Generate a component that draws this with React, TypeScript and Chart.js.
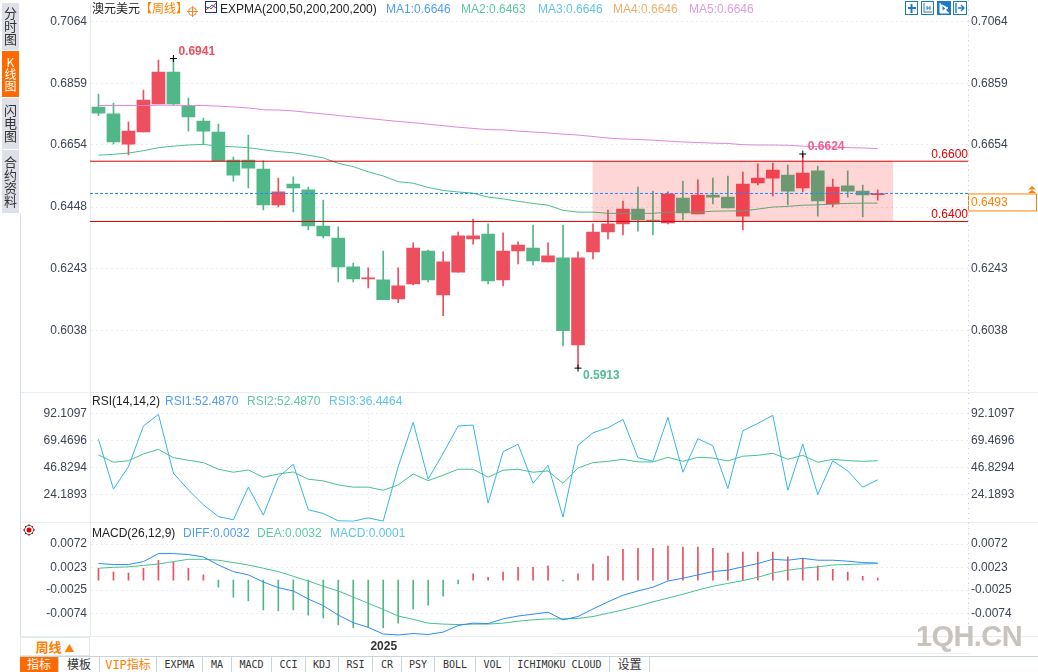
import React, { useEffect, useRef } from "react";
import { Chart, registerables } from "chart.js";

Chart.register(...registerables);

const FONT = "'Liberation Sans', 'Noto Sans CJK SC', sans-serif";
const CJK = "'Noto Sans CJK SC', 'Liberation Sans', sans-serif";
const MONO = "'DejaVu Sans Mono', 'Noto Sans CJK SC', monospace";

// weekly candles
const opens = [0.678,0.6757,0.6657,0.6697,0.679,0.6896,0.6784,0.6733,0.6697,0.6604,0.6604,0.6574,0.6455,0.6524,0.6505,0.6385,0.6345,0.6249,0.6209,0.6206,0.6143,0.6193,0.6302,0.6156,0.6232,0.6342,0.6358,0.6206,0.6302,0.6312,0.6266,0.6279,0.599,0.6299,0.6365,0.6392,0.6441,0.6405,0.6395,0.6478,0.6425,0.6488,0.6481,0.6418,0.6528,0.6544,0.6554,0.6511,0.6568,0.6458,0.6518,0.6501,0.6489];
const closes = [0.676,0.6664,0.67,0.6803,0.6896,0.679,0.6747,0.67,0.6601,0.6554,0.6577,0.6455,0.6498,0.6511,0.6385,0.6352,0.6249,0.6209,0.6213,0.614,0.6186,0.6312,0.6206,0.6266,0.6352,0.6352,0.6203,0.6302,0.6322,0.6269,0.6286,0.6037,0.6279,0.6365,0.6392,0.6441,0.6405,0.6402,0.6491,0.6428,0.6488,0.6481,0.6445,0.6524,0.6544,0.6571,0.6501,0.6561,0.6468,0.6514,0.6501,0.6488,0.6493];
const highs = [0.6823,0.6793,0.673,0.6836,0.6936,0.6941,0.681,0.6743,0.6723,0.6614,0.6687,0.6601,0.6544,0.6548,0.6514,0.6471,0.6382,0.6262,0.6246,0.6302,0.6246,0.6329,0.6305,0.6299,0.6365,0.6408,0.6392,0.6362,0.6332,0.6388,0.6329,0.6388,0.6299,0.6392,0.6438,0.6468,0.6514,0.6501,0.6498,0.6534,0.6538,0.6544,0.6551,0.6564,0.6591,0.6594,0.6587,0.6624,0.6584,0.6541,0.6568,0.6521,0.6505];
const lows = [0.6751,0.6657,0.6621,0.6697,0.679,0.6786,0.67,0.6657,0.6601,0.6534,0.6511,0.6438,0.6448,0.6432,0.6372,0.6345,0.6199,0.6199,0.6179,0.614,0.613,0.6189,0.6199,0.6087,0.6232,0.6325,0.6193,0.6186,0.6259,0.6256,0.6266,0.5987,0.5913,0.6276,0.6342,0.6355,0.6368,0.6355,0.6392,0.6405,0.6425,0.6458,0.6445,0.6372,0.6521,0.6485,0.6455,0.6498,0.6418,0.6448,0.6481,0.6415,0.6471];

const expmaSlow = [0.6785,0.6785,0.6785,0.6785,0.6786,0.6786,0.6785,0.6785,0.6783,0.678,0.6777,0.6771,0.677,0.6767,0.6762,0.6757,0.6752,0.6747,0.6742,0.6737,0.6732,0.6728,0.6723,0.6718,0.6713,0.6709,0.6705,0.6704,0.67,0.6697,0.6694,0.669,0.6687,0.6682,0.6677,0.6674,0.6672,0.667,0.6667,0.6664,0.6662,0.666,0.6659,0.6655,0.6654,0.6654,0.6653,0.665,0.6649,0.6647,0.6645,0.6644,0.6642];
const expmaFast = [0.662,0.6623,0.6627,0.6635,0.6645,0.665,0.6654,0.6656,0.665,0.6648,0.6645,0.6638,0.6632,0.6628,0.662,0.6611,0.6593,0.6582,0.6565,0.6551,0.6532,0.6527,0.6513,0.6503,0.6498,0.6494,0.6481,0.6475,0.6467,0.646,0.6454,0.6437,0.6431,0.6431,0.6427,0.6427,0.6427,0.6427,0.6431,0.6431,0.6431,0.6434,0.6435,0.6435,0.6441,0.6448,0.645,0.6454,0.6455,0.6458,0.646,0.6461,0.6461];

const priceTicks = [0.7064, 0.6859, 0.6654, 0.6448, 0.6243, 0.6038];
const zoneRange = [0.64, 0.66];
const lastPrice = 0.6493;
const extremes = [
  { at: 5, value: 0.6941, color: "#ee4f5f" },
  { at: 32, value: 0.5913, color: "#4fbf93" },
  { at: 47, value: 0.6624, color: "#ee5f8a" },
];

const rsiFast = [70.6,28.5,47.5,81.8,91.6,42.0,27.9,15.3,5.4,2.6,30.2,6.6,38.6,49.5,11.1,8.0,1.8,1.5,4.3,1.5,47.5,84.9,36.9,58.8,81.8,82.6,16.7,60.1,66.4,33.5,48.7,4.9,65.5,76.1,80.3,87.4,55.1,52.0,89.1,42.8,71.1,65.1,29.0,77.8,84.0,90.8,27.6,66.6,23.9,52.5,43.9,30.2,36.4];
const rsiSlow = [57.4,51.2,52.5,58.2,62.1,55.1,52.9,50.9,45.3,42.8,44.7,38.6,41.3,43.0,36.9,35.5,32.1,30.2,30.2,27.6,32.1,41.3,35.7,40.3,45.3,45.3,38.6,44.5,45.3,42.8,43.9,33.5,46.4,50.9,52.0,53.7,51.5,51.5,55.4,52.0,55.4,54.8,52.3,56.3,57.1,58.8,53.7,57.1,51.2,53.7,52.6,52.0,52.5];
const rsiTicks = [92.1097, 69.4696, 46.8294, 24.1893];

const diff = [0.0031,0.0029,0.0029,0.0035,0.0052,0.0052,0.005,0.0045,0.0028,0.0014,0.0007,-0.0008,-0.002,-0.0027,-0.0044,-0.0058,-0.0078,-0.0094,-0.0104,-0.0118,-0.012,-0.0117,-0.0119,-0.0114,-0.01,-0.0095,-0.0096,-0.0086,-0.008,-0.0076,-0.0072,-0.0088,-0.0081,-0.0065,-0.005,-0.0036,-0.0027,-0.0019,-0.0006,0,0.0007,0.0014,0.0017,0.0024,0.0031,0.004,0.0038,0.0042,0.0038,0.0038,0.0036,0.0033,0.0032];
const dea = [0.0021,0.0023,0.0024,0.0027,0.003,0.0035,0.004,0.004,0.0038,0.0033,0.0028,0.0021,0.0014,0.0004,-0.0006,-0.0017,-0.0027,-0.004,-0.0053,-0.0066,-0.008,-0.0087,-0.0095,-0.0097,-0.0098,-0.0097,-0.0097,-0.0095,-0.0091,-0.0088,-0.0086,-0.0086,-0.0085,-0.0081,-0.0074,-0.0067,-0.0059,-0.005,-0.0042,-0.0034,-0.0025,-0.0017,-0.0011,-0.0005,0.0002,0.0011,0.0017,0.0021,0.0024,0.0028,0.0029,0.003,0.0031];
const macdBars = [0.0021,0.0013,0.0011,0.0021,0.0038,0.0034,0.0021,0.0007,-0.0019,-0.004,-0.0048,-0.0067,-0.0069,-0.0067,-0.0078,-0.0084,-0.0099,-0.0105,-0.0103,-0.0105,-0.0095,-0.0065,-0.0057,-0.0038,-0.0012,0.0009,0.0002,0.0013,0.0023,0.0023,0.0026,-0.0006,0.0009,0.003,0.0047,0.0061,0.0063,0.0063,0.0068,0.0066,0.0066,0.0063,0.0053,0.0055,0.0055,0.0055,0.0045,0.0042,0.0026,0.0019,0.0013,0.0004,0];
const macdTicks = [0.0072, 0.0023, -0.0025, -0.0074];

const YEAR_AT = 18;
const X_MIN = -0.567;
const X_MAX = 58.025;

const RED = "#ee4f5f";
const GREEN = "#52b788";
const EXPMA_GREEN = "#45c28b";
const PINK = "#e385dc";
const CYAN = "#35b6e6";
const BLUE = "#2b8cf5";
const GRID = "#e9ebee";
const TICK_TEXT = "#3b4354";

const points = (values: number[]) => values.map((y, x) => ({ x, y }));
const flat = (y: number) => [{ x: X_MIN, y }, { x: X_MAX, y }];
const lineSet = (data: any, color: string, order: number, extra: any = {}) => ({
  type: "line",
  data,
  borderColor: color,
  borderWidth: 1,
  pointRadius: 0,
  tension: 0,
  order,
  ...extra,
});

function paneOptions(min: number, max: number, ticks: number[], digits: number, showYear: boolean) {
  const yAxis = (position: string, width: number, grid: boolean) => ({
    type: "linear",
    position,
    min,
    max,
    afterFit: (s: any) => {
      s.width = width;
    },
    afterBuildTicks: (s: any) => {
      s.ticks = ticks.map((value) => ({ value }));
    },
    ticks: {
      autoSkip: false,
      padding: 3,
      color: TICK_TEXT,
      font: { size: 12, family: FONT },
      callback: (v: any) => Number(v).toFixed(digits),
    },
    grid: { display: grid, color: GRID, drawTicks: false },
    border: { display: grid, color: "#e3e7ec", dash: [2, 3] },
  });
  return {
    responsive: false,
    animation: false,
    devicePixelRatio: 1,
    layout: { autoPadding: false, padding: 0 },
    plugins: { legend: { display: false }, tooltip: { enabled: false } },
    events: [],
    scales: {
      x: {
        type: "linear",
        min: X_MIN,
        max: X_MAX,
        offset: false,
        afterFit: (s: any) => {
          s.height = showYear ? 36 : 0;
        },
        afterBuildTicks: (s: any) => {
          s.ticks = [{ value: YEAR_AT }];
        },
        ticks: {
          display: showYear,
          autoSkip: false,
          maxRotation: 0,
          padding: 3,
          labelOffset: 15.5,
          color: "#333333",
          font: { size: 12, weight: "bold", family: FONT },
          callback: () => "2025",
        },
        grid: { color: "#e2e4e8", drawTicks: false },
        border: { display: false, dash: [1, 3] },
      },
      y: yAxis("left", 90, true),
      y2: yAxis("right", 70, false),
    },
  };
}

// text on the price pane: extreme prices, channel levels, last price box
const priceNotes = {
  id: "priceNotes",
  afterDatasetsDraw(chart: any) {
    const { ctx, chartArea, scales } = chart;
    ctx.save();
    ctx.textBaseline = "middle";
    ctx.font = `bold 12px ${FONT}`;
    ctx.textAlign = "left";
    extremes.forEach((e) => {
      const up = e.at !== 32;
      ctx.fillStyle = e.color;
      ctx.fillText(
        e.value.toFixed(4),
        scales.x.getPixelForValue(e.at) + 5,
        scales.y.getPixelForValue(e.value) + (up ? -7 : 8)
      );
    });
    ctx.font = `12px ${FONT}`;
    ctx.textAlign = "right";
    ctx.fillStyle = "#e00000";
    zoneRange.forEach((level) => {
      ctx.fillText(level.toFixed(4), chartArea.right, scales.y.getPixelForValue(level) - 7);
    });
    const lastY = scales.y.getPixelForValue(lastPrice);
    ctx.strokeStyle = "#ff8000";
    ctx.fillStyle = "#ffffff";
    ctx.lineWidth = 1;
    ctx.fillRect(chartArea.right + 0.5, lastY + 0.5, 68, 17);
    ctx.strokeRect(chartArea.right + 0.5, lastY + 0.5, 68, 17);
    ctx.fillStyle = "#ff8000";
    ctx.textAlign = "left";
    ctx.fillText(lastPrice.toFixed(4), chartArea.right + 3, lastY + 9.5);
    ctx.restore();
  },
};

const sideTabs = [
  { label: "分时图", top: 3, height: 47, active: false },
  { label: "K线图", top: 51, height: 46, active: true },
  { label: "闪电图", top: 98, height: 51, active: false },
  { label: "合约资料", top: 150, height: 63, active: false },
];
const bottomTabs = [
  { label: "指标", left: 20, right: 59 },
  { label: "模板", left: 59, right: 100 },
  { label: "VIP指标", left: 100, right: 157 },
  { label: "EXPMA", left: 157, right: 203 },
  { label: "MA", left: 203, right: 232 },
  { label: "MACD", left: 232, right: 272 },
  { label: "CCI", left: 272, right: 306 },
  { label: "KDJ", left: 306, right: 339 },
  { label: "RSI", left: 339, right: 373 },
  { label: "CR", left: 373, right: 402 },
  { label: "PSY", left: 402, right: 435 },
  { label: "BOLL", left: 435, right: 476 },
  { label: "VOL", left: 476, right: 510 },
  { label: "ICHIMOKU CLOUD", left: 510, right: 610 },
  { label: "设置", left: 610, right: 650 },
];
const legendItems = [
  { text: "澳元美元", x: 92, y: 9, color: "#222222" },
  { text: "【周线】", x: 140, y: 9, color: "#ff8000" },
  { text: "EXPMA(200,50,200,200,200)", x: 220, y: 9, color: "#222222" },
  { text: "MA1:0.6646", x: 386, y: 9, color: "#4f9df5" },
  { text: "MA2:0.6463", x: 461, y: 9, color: "#5cc9a0" },
  { text: "MA3:0.6646", x: 538, y: 9, color: "#62c3e8" },
  { text: "MA4:0.6646", x: 613, y: 9, color: "#f2ad6b" },
  { text: "MA5:0.6646", x: 689, y: 9, color: "#e39ae0" },
  { text: "RSI(14,14,2)", x: 92, y: 401, color: "#222222" },
  { text: "RSI1:52.4870", x: 165, y: 401, color: "#4f9df5" },
  { text: "RSI2:52.4870", x: 247, y: 401, color: "#5cc9a0" },
  { text: "RSI3:36.4464", x: 329, y: 401, color: "#62c3e8" },
  { text: "MACD(26,12,9)", x: 92, y: 533, color: "#222222" },
  { text: "DIFF:0.0032", x: 183, y: 533, color: "#4f9df5" },
  { text: "DEA:0.0032", x: 257, y: 533, color: "#5cc9a0" },
  { text: "MACD:0.0001", x: 330, y: 533, color: "#62c3e8" },
];

const box = (left: number, top: number, width: number, height: number, background: string): React.CSSProperties => ({
  position: "absolute",
  left,
  top,
  width,
  height,
  background,
});

const App: React.FC = () => {
  const priceRef = useRef<HTMLCanvasElement | null>(null);
  const rsiRef = useRef<HTMLCanvasElement | null>(null);
  const macdRef = useRef<HTMLCanvasElement | null>(null);

  useEffect(() => {
    if (!priceRef.current || !rsiRef.current || !macdRef.current) return;
    const candleColor = opens.map((o, i) => (closes[i] >= o ? RED : GREEN));

    const priceChart = new Chart(priceRef.current, {
      type: "bar",
      data: {
        datasets: [
          {
            data: highs.map((h, x) => ({ x, y: [lows[x], h] })),
            backgroundColor: candleColor,
            barThickness: 1,
            grouped: false,
            order: 50,
          },
          {
            data: opens.map((o, x) => ({ x, y: [o, closes[x]] })),
            backgroundColor: candleColor,
            barThickness: 13,
            grouped: false,
            order: 40,
          },
          lineSet(points(expmaSlow), PINK, 30),
          lineSet(points(expmaFast), EXPMA_GREEN, 30),
          {
            data: [{ x: 43, y: zoneRange }],
            backgroundColor: "rgba(255,0,0,0.16)",
            barThickness: 300,
            grouped: false,
            order: 20,
          },
          lineSet(flat(zoneRange[0]), "#d90000", 10),
          lineSet(flat(zoneRange[1]), "#d90000", 10),
          lineSet(flat(lastPrice), "#1e88ff", 10, { borderDash: [3, 2] }),
          lineSet(
            extremes.map((e) => ({ x: e.at, y: e.value })),
            "#000000",
            5,
            { showLine: false, pointStyle: "cross", pointRadius: 3.5, pointBorderWidth: 1, pointBorderColor: "#000000" }
          ),
        ],
      },
      options: paneOptions(0.58311, 0.71181, priceTicks, 4, false),
      plugins: [priceNotes],
    } as any);

    const rsiChart = new Chart(rsiRef.current, {
      type: "line",
      data: {
        datasets: [lineSet(points(rsiSlow), EXPMA_GREEN, 2), lineSet(points(rsiFast), CYAN, 1)],
      },
      options: paneOptions(0.96, 109.5, rsiTicks, 4, false),
    } as any);

    const macdChart = new Chart(macdRef.current, {
      type: "bar",
      data: {
        datasets: [
          {
            data: points(macdBars),
            backgroundColor: macdBars.map((v) => (v >= 0 ? RED : GREEN)),
            barThickness: 1,
            base: -0.0004,
            order: 3,
          },
          lineSet(points(dea), EXPMA_GREEN, 2),
          lineSet(points(diff), BLUE, 1),
        ],
      },
      options: paneOptions(-0.01222, 0.01184, macdTicks, 4, true),
    } as any);

    return () => {
      priceChart.destroy();
      rsiChart.destroy();
      macdChart.destroy();
    };
  }, []);

  // the layout keeps 10px above and below each plot, so the canvases overlap by that much
  return (
    <div style={{ position: "absolute", left: 0, top: 0, width: 1038, height: 672, overflow: "hidden", background: "#fff", fontFamily: FONT }}>
      <canvas ref={priceRef} width={1038} height={408} style={{ position: "absolute", left: 0, top: -5 }} />
      <canvas ref={rsiRef} width={1038} height={149} style={{ position: "absolute", left: 0, top: 383 }} />
      <canvas ref={macdRef} width={1038} height={160} style={{ position: "absolute", left: 0, top: 512 }} />

      <div style={box(20, 392, 1018, 1, "#e6eef0")} />
      <div style={box(20, 522, 1018, 1, "#e6eef0")} />
      <div style={box(20, 636, 1018, 1, "#e6eef0")} />
      <div style={box(553, 653, 417, 1, "#edf1f3")} />
      <div style={box(20, 213, 1, 443, "#d5dde6")} />

      {sideTabs.map((t) => (
        <div
          key={t.label}
          style={{
            ...box(2, t.top, 17, t.height, t.active ? "#ff6a00" : "#dfe1ea"),
            color: t.active ? "#fff" : "#333",
            fontFamily: CJK,
            fontSize: t.active ? 12 : 13,
            lineHeight: "17px",
            writingMode: "vertical-rl",
            textOrientation: "upright",
            textAlign: "center",
          }}
        >
          {t.label}
        </div>
      ))}

      {legendItems.map((l) => (
        <div
          key={l.text}
          style={{ position: "absolute", left: l.x, top: l.y - 8, lineHeight: "16px", fontSize: 12, color: l.color, whiteSpace: "nowrap", fontFamily: FONT }}
        >
          {l.text}
        </div>
      ))}

      <div
        style={{
          ...box(20, 637, 70, 19, "#fff"),
          border: "1px solid #e3e8ec",
          boxSizing: "border-box",
          color: "#ff8000",
          fontSize: 13,
          fontWeight: "bold",
          fontFamily: CJK,
          lineHeight: "17px",
          textAlign: "center",
        }}
      >
        周线 <span style={{ fontSize: 10 }}>▲</span>
      </div>

      <div style={box(20, 656, 1018, 16, "#fff")} />
      <div style={box(20, 656, 1018, 1, "#c9d3da")} />
      {bottomTabs.map((t, i) => (
        <div
          key={t.label}
          style={{
            ...box(t.left, 657, t.right - t.left - 1, 15, i === 0 ? "#ff6a00" : "#fff"),
            borderRight: "1px solid #c9d3da",
            color: i === 0 ? "#fff" : i === 2 ? "#ff8000" : "#333",
            fontFamily: MONO,
            fontSize: /^[A-Z ]+$/.test(t.label) ? 10 : 12,
            lineHeight: "16px",
            textAlign: "center",
            whiteSpace: "nowrap",
          }}
        >
          {t.label}
        </div>
      ))}

      <div
        style={{
          position: "absolute",
          left: 916,
          top: 618,
          fontSize: 29,
          lineHeight: "36px",
          fontFamily: FONT,
          fontWeight: "bold",
          color: "#c9c3be",
          letterSpacing: -0.6,
          whiteSpace: "nowrap",
        }}
      >
        1QH.CN
      </div>

      <svg width={1038} height={672} style={{ position: "absolute", left: 0, top: 0, pointerEvents: "none" }}>
        {/* right axis dots */}
        <path d="M968.5 0V392M968.5 393V522M968.5 523V636" stroke="#cfd3d8" strokeDasharray="1 4" fill="none" />
        {/* crosshair mark next to the title */}
        <circle cx={192.5} cy={11.5} r={4} fill="none" stroke="#f08a2c" />
        <path d="M187 11.5h11M192.5 6v11" stroke="#f08a2c" />
        {/* indicator icon */}
        <rect x={205.5} y={1.5} width={11} height={11} fill="#fff" stroke="#1a2f80" />
        <path d="M206 10l3-3 2 2 5-6" fill="none" stroke="#d33" />
        <path d="M206 7l3 1 3-3 4 3" fill="none" stroke="#26a" />
        {/* toolbar icons */}
        <g stroke="#1e7ac8" fill="none">
          <rect x={905.5} y={1.5} width={12} height={13} />
          <path d="M908 8h8M911.5 4v9" strokeWidth={2} />
          <rect x={921.5} y={1.5} width={12} height={13} />
          <path d="M924 3v9h8M927 6v4M930 6v4M927 8h3" />
          <rect x={937.5} y={1.5} width={13} height={13} fill="#1e7ac8" />
          <path d="M940 3v10h9M942 5l6 3-6 3z" stroke="#fff" fill="#fff" />
          <rect x={953.5} y={1.5} width={13} height={13} />
          <path d="M956 3v10M958 8h6M961 5l3 3-3 3" strokeWidth={1.4} />
        </g>
        {/* last price marker */}
        <path d="M1032 186l4 3.5h-8zM1032 190l4 3h-8z" fill="#ff8000" />
        {/* macd settings marker */}
        <circle cx={29} cy={530} r={2.5} fill="#e00000" />
        <circle cx={29} cy={530} r={4.5} fill="none" stroke="#222" strokeWidth={0.8} />
        <path d="M23 530h1.5M33.5 530h1.5M29 524v1.5M29 534.5v1.5M25 526l1 1M32 533l1 1M33 526l-1 1M26 533l-1 1" stroke="#e00000" />
      </svg>
    </div>
  );
};

export default App;
